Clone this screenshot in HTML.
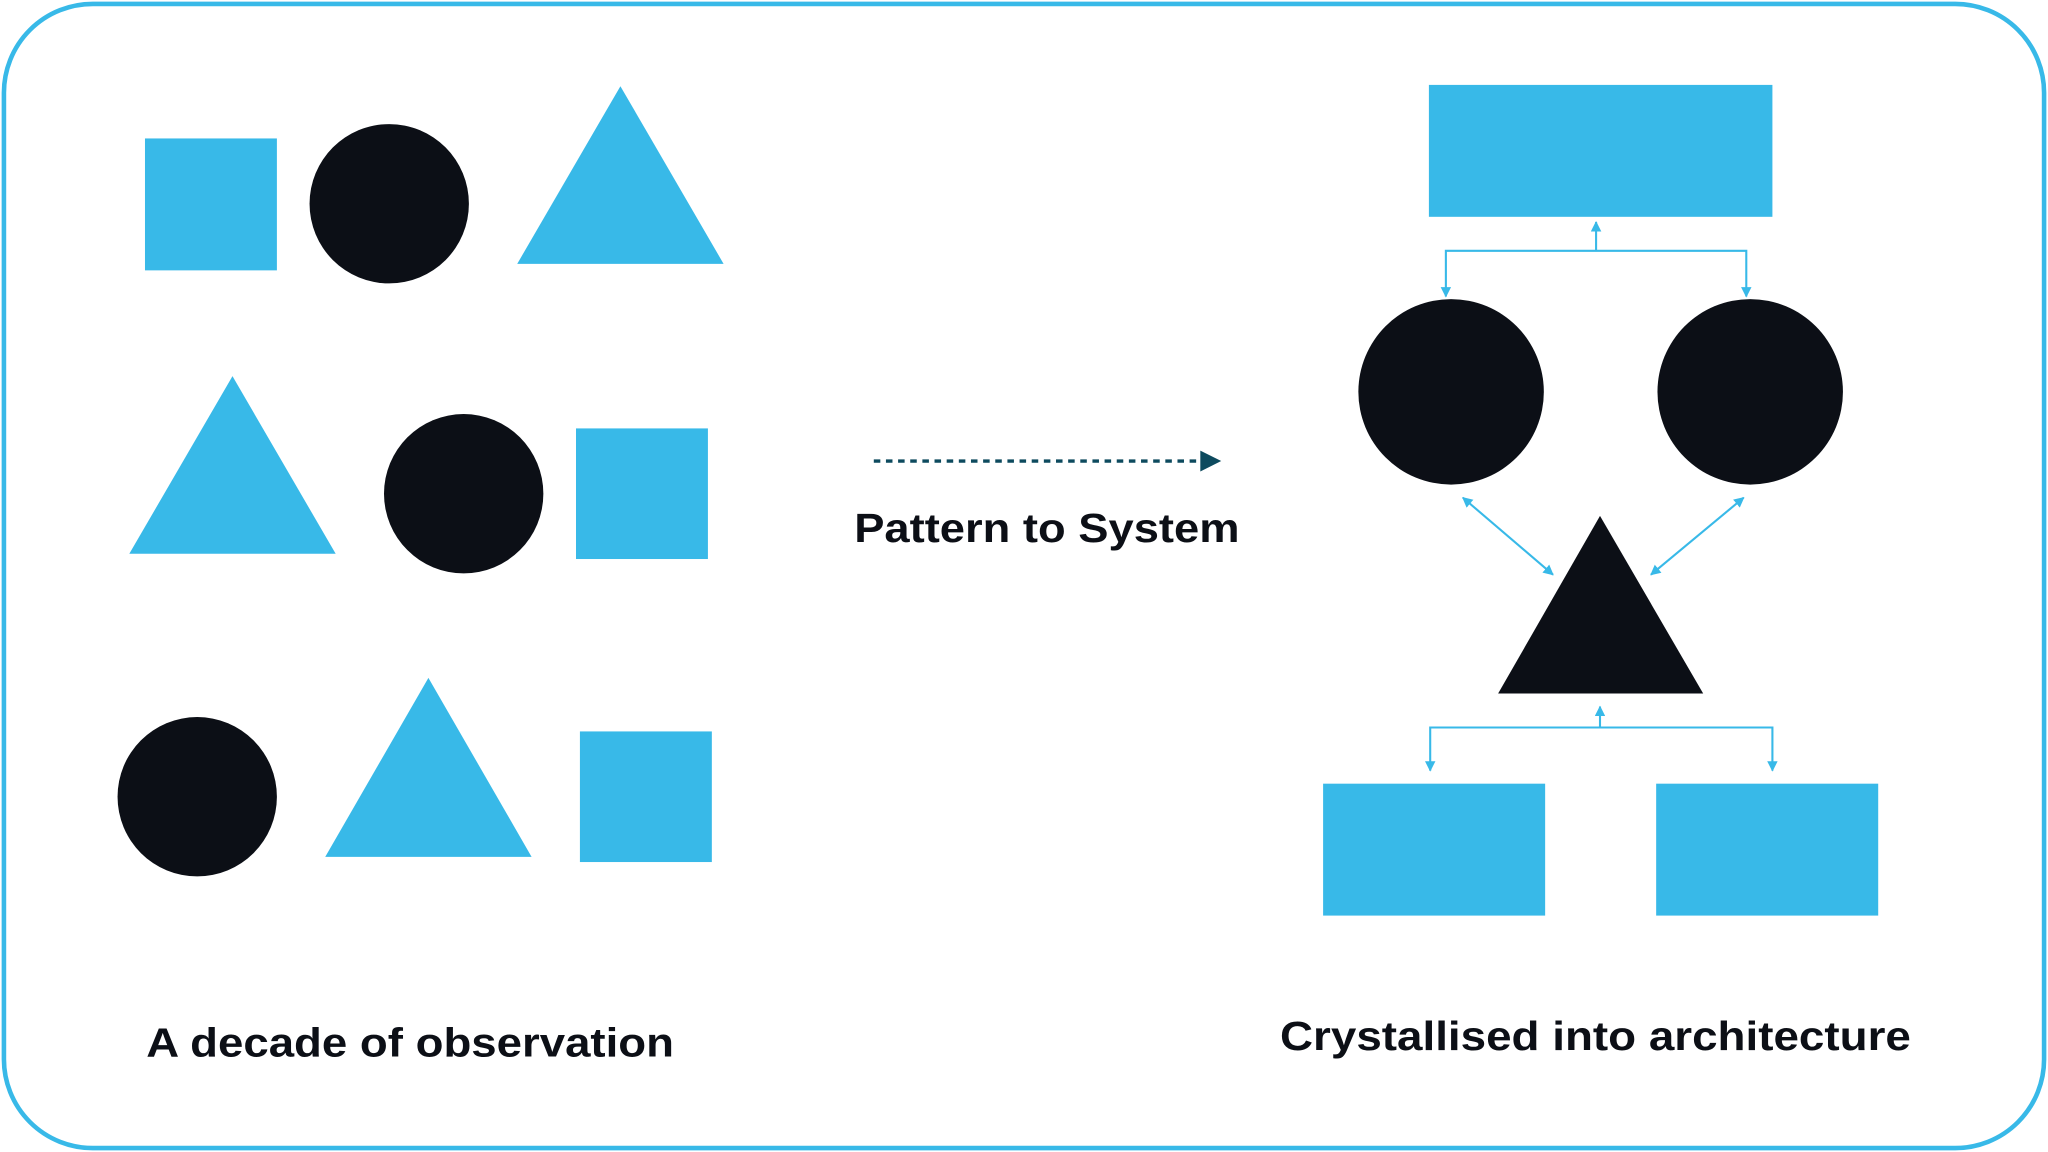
<!DOCTYPE html>
<html><head><meta charset="utf-8"><style>html,body{margin:0;padding:0;background:#fff}svg{display:block}</style></head>
<body>
<svg width="2048" height="1152" viewBox="0 0 1568 882" xmlns="http://www.w3.org/2000/svg">
<defs>
<marker id="a" viewBox="0 0 10 10" refX="9" refY="5" markerWidth="8" markerHeight="8" markerUnits="userSpaceOnUse" orient="auto-start-reverse"><path d="M0,0L10,5L0,10z" fill="#38b9e8"/></marker>
</defs>
<rect x="3" y="3" width="1562" height="876" rx="68" fill="#fff" stroke="#38b9e8" stroke-width="3.5"/>
<g fill="#38b9e8">
<rect x="111" y="106" width="101" height="101"/>
<polygon points="475,66 396,202 554,202"/>
<polygon points="178,288 99,424 257,424"/>
<rect x="441" y="328" width="101" height="100"/>
<polygon points="328,519 249,656 407,656"/>
<rect x="444" y="560" width="101" height="100"/>
<rect x="1094" y="65" width="263" height="101"/>
<rect x="1013" y="600" width="170" height="101"/>
<rect x="1268" y="600" width="170" height="101"/>
</g>
<g fill="#0c0f16">
<circle cx="298" cy="156" r="61"/>
<circle cx="355" cy="378" r="61"/>
<circle cx="151" cy="610" r="61"/>
<circle cx="1111" cy="300" r="71"/>
<circle cx="1340" cy="300" r="71"/>
<polygon points="1225,395 1147,531 1304,531"/>
</g>
<g stroke="#38b9e8" stroke-width="1.6" fill="none">
<line x1="1222" y1="192" x2="1222" y2="170" marker-end="url(#a)"/>
<polyline points="1107,227 1107,192 1337,192 1337,227" marker-start="url(#a)" marker-end="url(#a)"/>
<line x1="1120" y1="381" x2="1189" y2="440" marker-start="url(#a)" marker-end="url(#a)"/>
<line x1="1335" y1="381" x2="1264" y2="440" marker-start="url(#a)" marker-end="url(#a)"/>
<line x1="1225" y1="557" x2="1225" y2="541" marker-end="url(#a)"/>
<polyline points="1095,590 1095,557 1357,557 1357,590" marker-start="url(#a)" marker-end="url(#a)"/>
</g>
<line x1="669" y1="353" x2="918" y2="353" stroke="#0d4a5e" stroke-width="2.5" stroke-dasharray="5,4.3"/>
<polygon points="919,345 935,353 919,361" fill="#0d4a5e"/>
<g font-family="Liberation Sans, sans-serif" font-weight="bold" font-size="31" fill="#0c0f16">
<text x="654" y="415" textLength="295" lengthAdjust="spacingAndGlyphs">Pattern to System</text>
<text x="112" y="809" textLength="404" lengthAdjust="spacingAndGlyphs">A decade of observation</text>
<text x="980" y="804" textLength="483" lengthAdjust="spacingAndGlyphs">Crystallised into architecture</text>
</g>
</svg>
</body></html>
